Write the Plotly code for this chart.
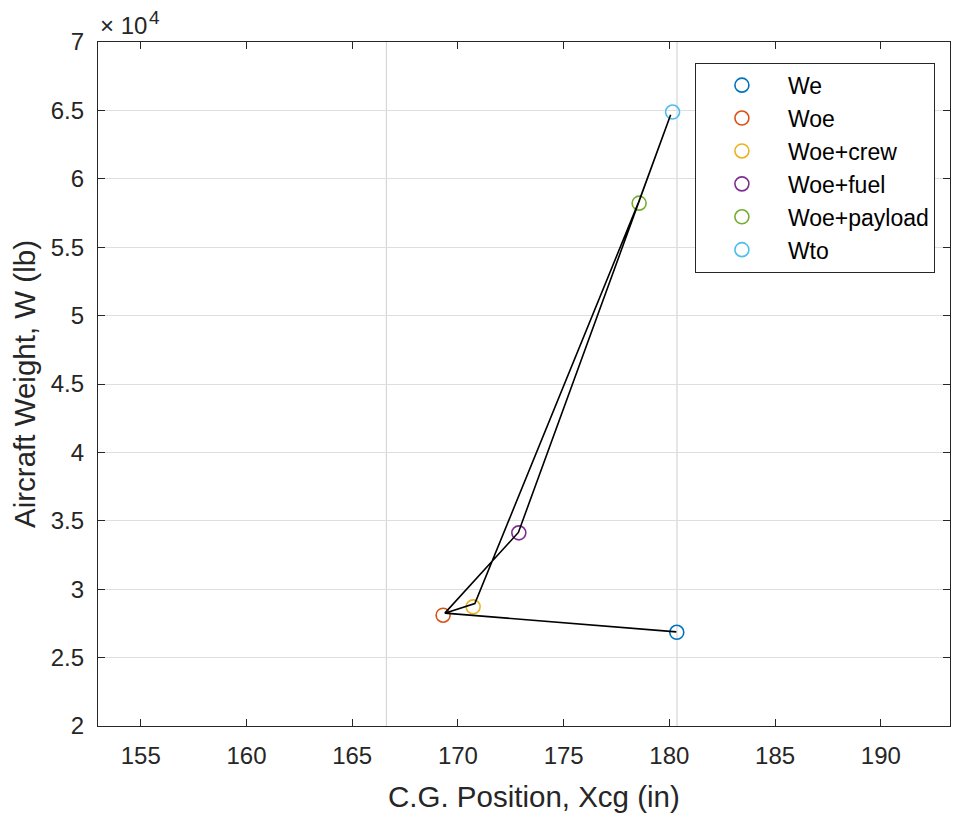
import plotly.graph_objects as go

# Data
names = ["We", "Woe", "Woe+crew", "Woe+fuel", "Woe+payload", "Wto"]
xcg = [180.35, 169.30, 170.72, 172.88, 178.57, 180.15]
weight = [26850, 28100, 28710, 34120, 58220, 64880]
colors = ["#0072BD", "#D95319", "#EDB120", "#7E2F8E", "#77AC30", "#4DBEEE"]

# CG travel path (loading sequence) as drawn
path_x = [180.33, 169.38, 170.80, 178.52, 180.06, 172.86, 169.38]
path_y = [26880, 28250, 28950, 58200, 64680, 34150, 28250]

# CG limit lines
limit_x = [166.62, 180.36]

x_ticks = [155, 160, 165, 170, 175, 180, 185, 190]
y_ticks = [20000, 25000, 30000, 35000, 40000, 45000, 50000, 55000, 60000, 65000, 70000]
y_ticktext = ["2", "2.5", "3", "3.5", "4", "4.5", "5", "5.5", "6", "6.5", "7"]

FONT = "Liberation Sans, Arial, Helvetica, sans-serif"
AX = "#262626"

fig = go.Figure()
for n, x, y, c in zip(names, xcg, weight, colors):
    fig.add_trace(go.Scatter(
        x=[x], y=[y], mode="markers", name=n,
        marker=dict(symbol="circle-open", size=14, color=c, line=dict(width=1.6, color=c)),
    ))
fig.add_trace(go.Scatter(
    x=path_x, y=path_y, mode="lines", showlegend=False,
    line=dict(color="black", width=1.6), hoverinfo="skip",
))

for lx in limit_x:
    fig.add_shape(type="line", xref="x", yref="paper", x0=lx, x1=lx, y0=0, y1=1,
                  line=dict(color="#d6d6d6", width=1.2), layer="below")

fig.update_layout(
    width=953, height=815,
    margin=dict(l=98, r=3, t=42, b=89),
    paper_bgcolor="white", plot_bgcolor="white",
    font=dict(family=FONT, size=24, color=AX),
    showlegend=True,
    legend=dict(
        x=(695 - 98.3) / 851.7, y=(725.7 - 63) / 683.4, xanchor="left", yanchor="top",
        bordercolor=AX, borderwidth=1, bgcolor="white",
        font=dict(family=FONT, size=23, color="black"),
        itemwidth=82, tracegroupgap=0,
    ),
)
fig.update_xaxes(
    range=[152.98, 193.27], tickvals=x_ticks, ticks="inside", ticklen=7, tickcolor=AX,
    showline=True, linecolor=AX, linewidth=1.3, mirror="allticks", showgrid=False, zeroline=False,
    tickfont=dict(family=FONT, size=24, color=AX), ticklabelstandoff=8,
)
fig.update_yaxes(
    range=[20000, 70000], tickvals=y_ticks, ticktext=y_ticktext, ticks="inside", ticklen=7, tickcolor=AX,
    showline=True, linecolor=AX, linewidth=1.3, mirror="allticks", showgrid=True, gridcolor="#dedede",
    gridwidth=1.2, zeroline=False,
    tickfont=dict(family=FONT, size=24, color=AX), ticklabelstandoff=8,
    title=dict(text="Aircraft Weight, W (lb)", font=dict(family=FONT, size=29.5, color=AX), standoff=6),
)
# x-axis title
fig.add_annotation(
    xref="paper", yref="paper", x=(534 - 98.3) / 851.7, y=0, xanchor="center", yanchor="middle",
    yshift=-70, text="C.G. Position, Xcg (in)", showarrow=False,
    font=dict(family=FONT, size=29.5, color=AX),
)
# axis exponent label (×10^4)
fig.add_annotation(
    xref="paper", yref="paper", x=0, y=1, xanchor="left", yanchor="bottom", yshift=1, xshift=0,
    text="× 10", showarrow=False, font=dict(family=FONT, size=24, color=AX),
)
fig.add_annotation(
    xref="paper", yref="paper", x=0, y=1, xanchor="left", yanchor="bottom", yshift=12, xshift=49,
    text="4", showarrow=False, font=dict(family=FONT, size=19, color=AX),
)

fig.write_html("out.html", config={"displayModeBar": False},
               post_script="document.body.style.margin='0px';")
